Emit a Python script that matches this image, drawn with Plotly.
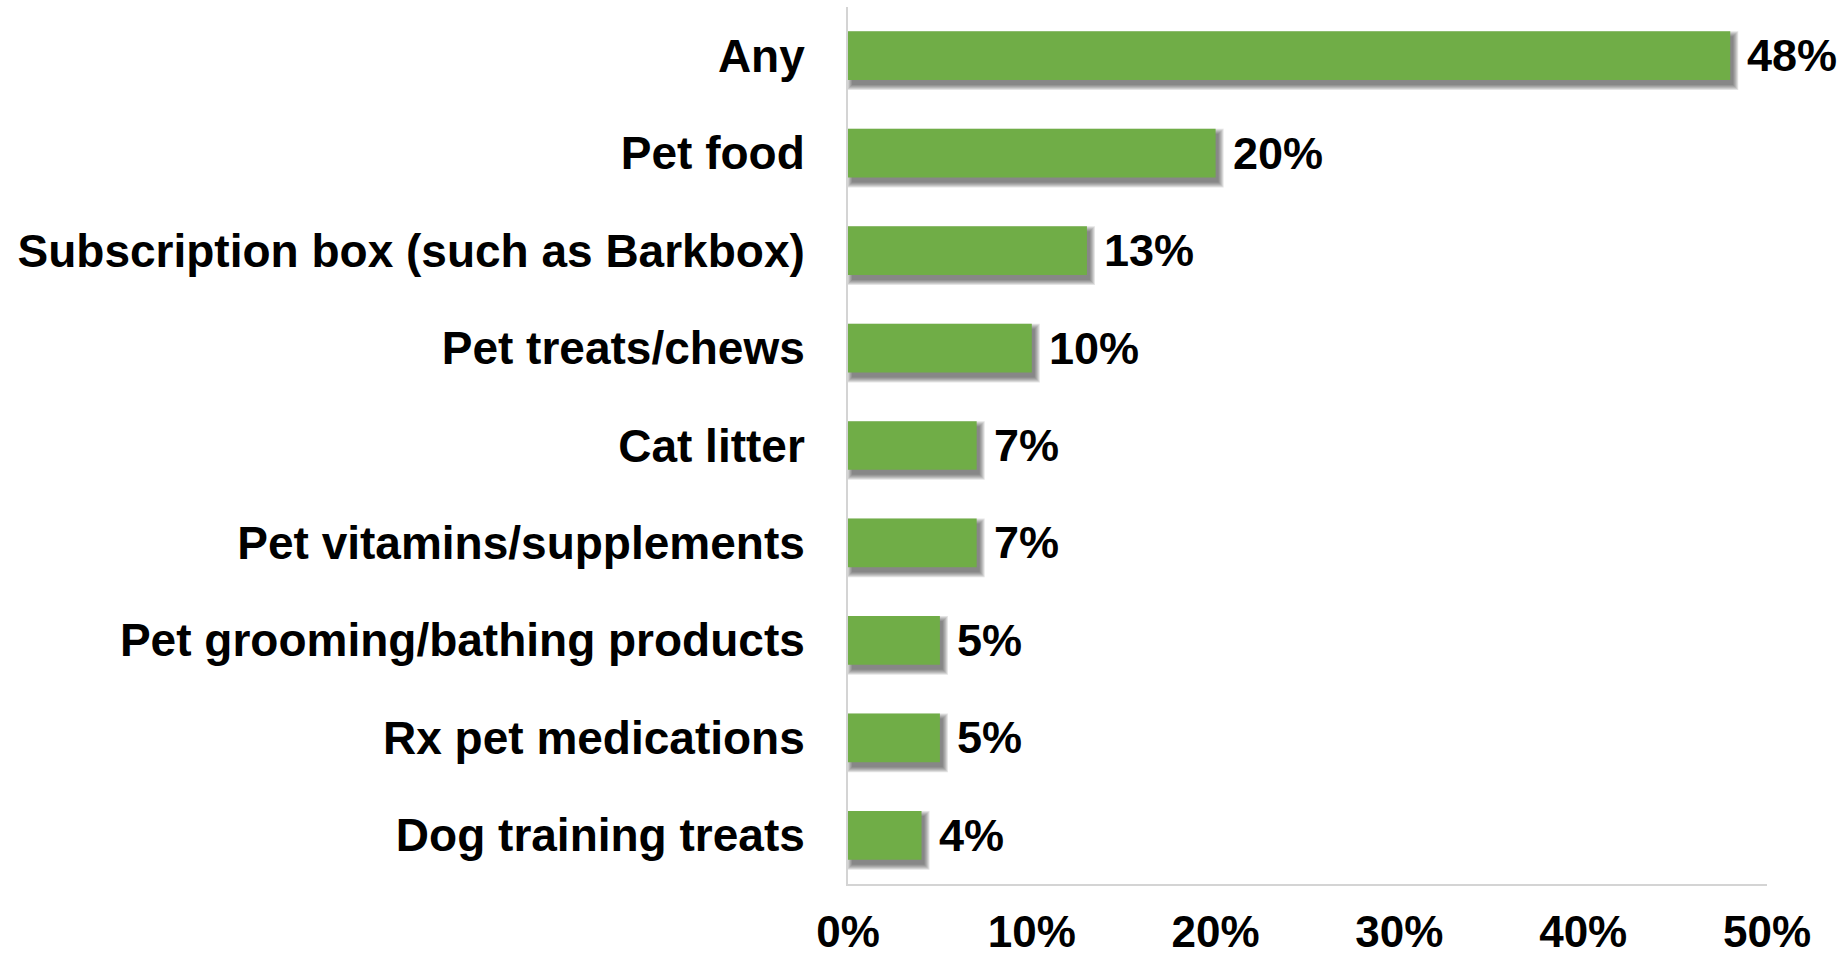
import plotly.graph_objects as go

# Share of respondents buying each pet product category
categories = [
    "Any",
    "Pet food",
    "Subscription box (such as Barkbox)",
    "Pet treats/chews",
    "Cat litter",
    "Pet vitamins/supplements",
    "Pet grooming/bathing products",
    "Rx pet medications",
    "Dog training treats",
]
values = [48, 20, 13, 10, 7, 7, 5, 5, 4]
x_tick_values = [0, 10, 20, 30, 40, 50]
x_tick_labels = ["0%", "10%", "20%", "30%", "40%", "50%"]

W, H = 1847, 957
M_L, M_R, M_T, M_B = 848, 80, 7, 73
plot_w = W - M_L - M_R
plot_h = H - M_T - M_B
X_MAX = 50
ux = X_MAX / plot_w                  # data units per pixel (x)
uy = len(categories) / plot_h        # category units per pixel (y)

BAR_W = 0.5
GREEN = "#70AD47"
FONT = "Liberation Sans, Arial, sans-serif"

fig = go.Figure()

# Soft drop shadow under each bar, built from stacked translucent copies
dx, dy = 4, 5
for s in [5, 4, 3, 2, 1, 0]:
    fig.add_trace(go.Bar(
        y=categories,
        x=[v + 2 * s * ux - 1 * ux for v in values],
        base=(dx - s) * ux,
        orientation="h",
        width=BAR_W + 2 * s * uy,
        offset=-BAR_W / 2 + (dy - s) * uy,
        marker=dict(color="rgba(50,50,50,0.13)", line=dict(width=0)),
        hoverinfo="skip",
        showlegend=False,
    ))

fig.add_trace(go.Bar(
    y=categories,
    x=values,
    orientation="h",
    width=BAR_W,
    offset=-BAR_W / 2,
    marker=dict(color=GREEN, line=dict(width=0)),
    showlegend=False,
))

for cat, v in zip(categories, values):
    fig.add_annotation(
        x=v, y=cat, text=f"<b>{v}%</b>",
        xanchor="left", yanchor="middle", xshift=15,
        showarrow=False,
        font=dict(family=FONT, size=45, color="black"),
    )

fig.update_layout(
    width=W, height=H,
    margin=dict(l=M_L, r=M_R, t=M_T, b=M_B, pad=0, autoexpand=False),
    paper_bgcolor="white", plot_bgcolor="white",
    barmode="overlay",
    bargap=0.5,
    font=dict(family=FONT, size=44, color="black"),
)

fig.update_xaxes(
    range=[0, X_MAX],
    tickvals=x_tick_values,
    ticktext=[f"<b>{t}</b>" for t in x_tick_labels],
    showgrid=False, zeroline=False,
    showline=True, linecolor="#d4d4d4", linewidth=2,
    ticks="", ticklabelstandoff=8,
    tickfont=dict(family=FONT, size=44, color="black"),
    automargin=False,
    fixedrange=True,
)
fig.update_yaxes(
    categoryorder="array", categoryarray=categories,
    range=[len(categories) - 0.5, -0.5],
    tickvals=categories,
    ticktext=[f"<b>{c}</b>" for c in categories],
    showgrid=False, zeroline=False,
    showline=True, linecolor="#d4d4d4", linewidth=2,
    ticks="", ticklabelstandoff=32,
    tickfont=dict(family=FONT, size=46, color="black"),
    automargin=False,
    fixedrange=True,
)

fig.write_html("out.html", config={"displayModeBar": False})
